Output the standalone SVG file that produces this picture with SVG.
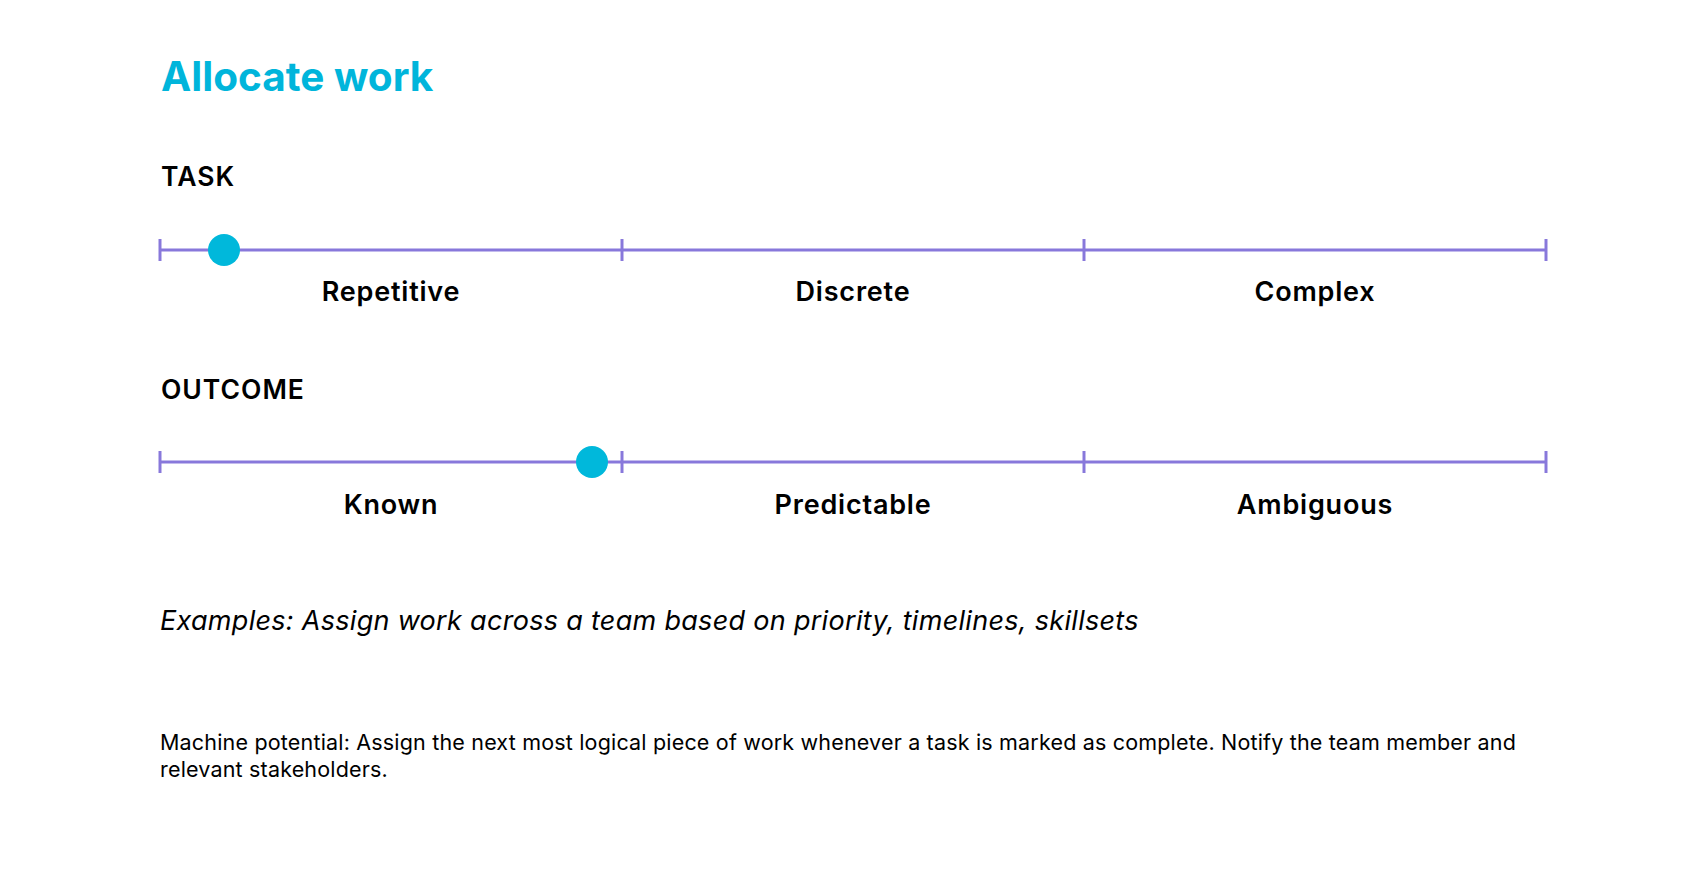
<svg xmlns="http://www.w3.org/2000/svg" width="1706" height="872" viewBox="0 0 1706 872">
<style>
.title{font-family:Inter,"Liberation Sans",sans-serif;font-weight:700;font-size:40.5px;fill:#00B5DB}
.head{font-family:Inter,"Liberation Sans",sans-serif;font-weight:600;font-size:26.5px;letter-spacing:1px;fill:#000}
.lab{font-family:Inter,"Liberation Sans",sans-serif;font-weight:600;font-size:27px;letter-spacing:0.8px;fill:#000;text-anchor:middle}
.ex{font-family:Inter,"Liberation Sans",sans-serif;font-style:italic;font-size:27px;letter-spacing:0.3px;fill:#000}
.body{font-family:Inter,"Liberation Sans",sans-serif;font-size:21.5px;letter-spacing:0.18px;fill:#000}
.axis{stroke:#8878DB;stroke-width:3;fill:none}
.dot{fill:#00B8DB}
</style>
<rect width="1706" height="872" fill="#fff"/>
<g id="title"><text class="title" x="161" y="91">Allocate work</text></g>
<g id="task">
<text class="head" x="161" y="186">TASK</text>
<g class="axis"><line x1="160" y1="250" x2="1546" y2="250"/><line x1="160" y1="239" x2="160" y2="261"/><line x1="622" y1="239" x2="622" y2="261"/><line x1="1084" y1="239" x2="1084" y2="261"/><line x1="1546" y1="239" x2="1546" y2="261"/></g>
<circle class="dot" cx="224" cy="250" r="16"/>
<text class="lab" x="391" y="301">Repetitive</text>
<text class="lab" x="853" y="301">Discrete</text>
<text class="lab" x="1315" y="301">Complex</text>
</g>
<g id="outcome">
<text class="head" x="161" y="399">OUTCOME</text>
<g class="axis"><line x1="160" y1="462" x2="1546" y2="462"/><line x1="160" y1="451" x2="160" y2="473"/><line x1="622" y1="451" x2="622" y2="473"/><line x1="1084" y1="451" x2="1084" y2="473"/><line x1="1546" y1="451" x2="1546" y2="473"/></g>
<circle class="dot" cx="592" cy="462" r="16"/>
<text class="lab" x="391" y="514">Known</text>
<text class="lab" x="853" y="514">Predictable</text>
<text class="lab" x="1315" y="514">Ambiguous</text>
</g>
<g id="examples"><text class="ex" x="160" y="630">Examples: Assign work across a team based on priority, timelines, skillsets</text></g>
<g id="machine"><text class="body" x="160" y="750">Machine potential: Assign the next most logical piece of work whenever a task is marked as complete. Notify the team member and</text><text class="body" x="160" y="777">relevant stakeholders.</text></g>
</svg>
